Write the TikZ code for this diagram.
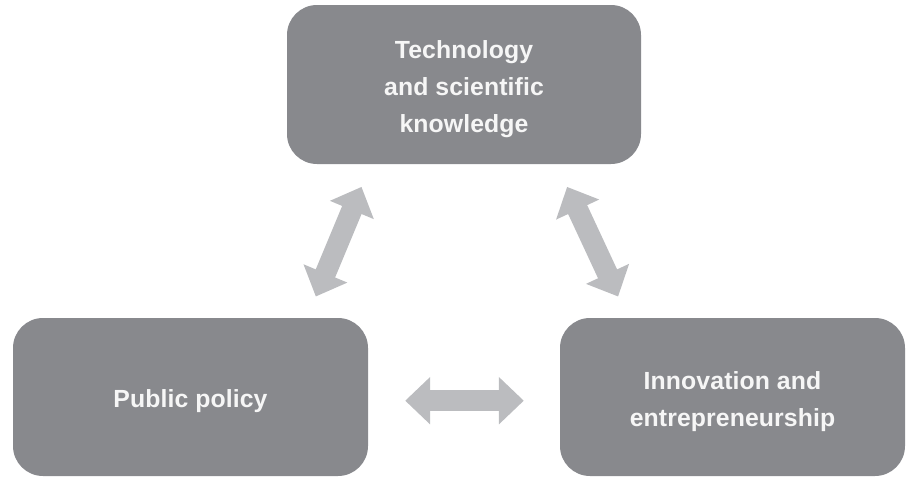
\documentclass[tikz,border=0pt]{standalone}
\usepackage{fontspec}
\setmainfont{Liberation Sans}
\newfontfamily\labelfont[LetterSpace=0.4]{Liberation Sans}
\usetikzlibrary{arrows.meta,calc}
\definecolor{boxgray}{RGB}{136,137,141}
\definecolor{arrowgray}{RGB}{187,188,191}
\definecolor{labelwhite}{RGB}{246,246,246}
\begin{document}
\begin{tikzpicture}[x=1pt,y=-1pt,
  block/.style={fill=boxgray, rounded corners=30pt, inner sep=0pt},
  blocktext/.style={inner sep=0pt, yshift=-4.5pt, text=labelwhite, align=center,
    font=\labelfont\bfseries\fontsize{24.8}{36.7}\selectfont},
  link/.style={draw=arrowgray, line width=21pt,
    {Triangle[width=46pt,length=25pt]}-{Triangle[width=46pt,length=25pt]}}]
\useasboundingbox (0,0) rectangle (906,477);

% the three fields
\node[block, minimum width=354pt, minimum height=159pt,
  label={[blocktext]center:Technology\\and scientific\\knowledge}] (tech) at (464,84.5) {};
\node[block, minimum width=355pt, minimum height=158pt,
  label={[blocktext]center:Public policy}] (pol) at (190.5,397) {};
\node[block, minimum width=345pt, minimum height=158pt,
  label={[blocktext]center:Innovation and\\entrepreneurship}] (inn) at (732.5,397) {};

% arrow ends, set in the gaps between the fields
\coordinate (tl-a) at ($(tech.south west)+(74.7,22.7)$);
\coordinate (tl-b) at ($(pol.north west)+(303,-21.3)$);
\coordinate (tr-a) at ($(tech.south west)+(280.3,22.7)$);
\coordinate (tr-b) at ($(inn.north west)+(58.3,-21.3)$);
\coordinate (h-a) at ($(pol.east)+(37,3.7)$);
\coordinate (h-b) at ($(inn.west)+(-36,3.7)$);

% two-way links
\draw[link] (tl-a) -- (tl-b);
\draw[link] (tr-a) -- (tr-b);
\draw[link] (h-a) -- (h-b);
\end{tikzpicture}
\end{document}
